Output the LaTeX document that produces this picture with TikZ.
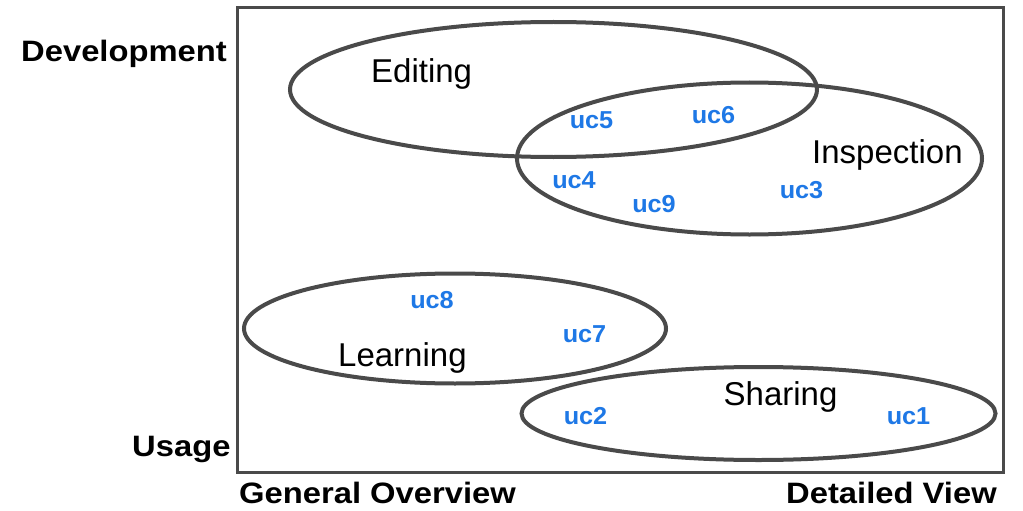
\documentclass[tikz,border=0pt]{standalone}
\usepackage{fontspec}
\setmainfont{Liberation Sans}
\usepackage{graphicx}
\definecolor{linegray}{HTML}{4A4A4A}
\definecolor{ucblue}{HTML}{1E78E6}
\tikzset{
  region/.style={draw=linegray, line width=4pt},
  frame/.style={draw=linegray, line width=3pt},
  setlabel/.style={inner sep=0pt, anchor=base west, font=\fontsize{33}{39}\selectfont},
  axislabel/.style={inner sep=0pt, anchor=base west, font=\fontsize{29.5}{35}\selectfont\bfseries},
  uclabel/.style={inner sep=0pt, anchor=center, text=ucblue, font=\fontsize{24.5}{29}\selectfont\bfseries}
}
\newcommand{\wide}[1]{\scalebox{1.11}[1]{#1}}
\newcommand{\ucw}[1]{\scalebox{1.03}[1]{#1}}
\begin{document}
\begin{tikzpicture}[x=1pt,y=-1pt]
\useasboundingbox (0,0) rectangle (1023,511);
\fill[white] (0,0) rectangle (1023,511);
\draw[frame] (237,8) rectangle (1003,472);
% ellipses
\draw[region] (553.5,89.5) ellipse [x radius=263.5, y radius=67.5];
\draw[region] (749.5,158.5) ellipse [x radius=232.5, y radius=76];
\draw[region] (455,328.5) ellipse [x radius=211, y radius=55];
\draw[region] (758.5,413.5) ellipse [x radius=237, y radius=46.5];
% set labels
\node[setlabel] (editing) at (371,83) {Editing};
\node[setlabel] (inspection) at (812,163) {Inspection};
\node[setlabel] (learning) at (338,366.5) {Learning};
\node[setlabel] (sharing) at (723.5,405) {Sharing};
% axis labels
\node[axislabel] (dev) at (21,62) {\wide{Development}};
\node[axislabel] (usage) at (132,456) {\wide{Usage}};
\node[axislabel] (general) at (239,503) {\wide{General Overview}};
\node[axislabel] (detailed) at (786,503) {\wide{Detailed View}};
% use cases
\node[uclabel] (uc5) at (591.5,120) {\ucw{uc5}};
\node[uclabel] (uc6) at (713.5,115) {\ucw{uc6}};
\node[uclabel] (uc4) at (574,180) {\ucw{uc4}};
\node[uclabel] (uc9) at (654,204) {\ucw{uc9}};
\node[uclabel] (uc3) at (801.5,190) {\ucw{uc3}};
\node[uclabel] (uc8) at (432,300) {\ucw{uc8}};
\node[uclabel] (uc7) at (584.5,334) {\ucw{uc7}};
\node[uclabel] (uc2) at (585.5,416.5) {\ucw{uc2}};
\node[uclabel] (uc1) at (908.5,416.5) {\ucw{uc1}};
\end{tikzpicture}
\end{document}
